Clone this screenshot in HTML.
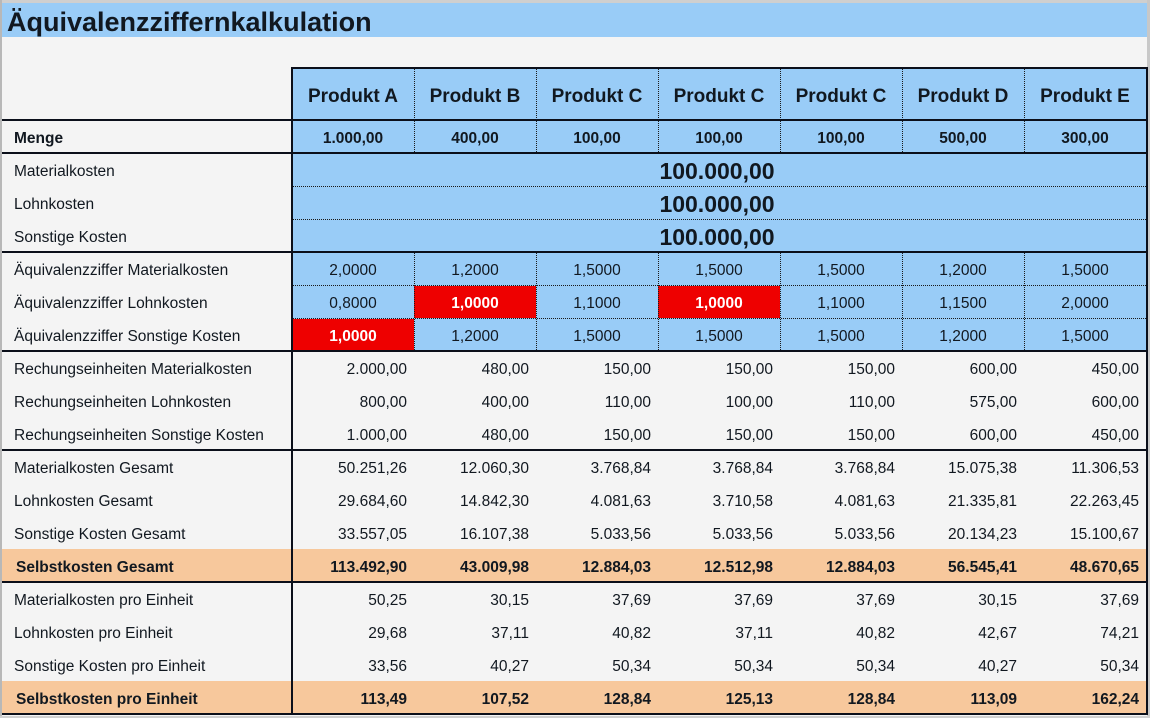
<!DOCTYPE html>
<html><head><meta charset="utf-8">
<style>
*{margin:0;padding:0;box-sizing:border-box}
body{width:1150px;height:718px;overflow:hidden;background:#f4f4f4;font-family:"Liberation Sans",Arial,sans-serif;color:#111820;position:relative}
.abs{position:absolute}
.row{position:absolute;left:0;width:1146px;height:33px;display:flex;align-items:center;font-size:15.5px;z-index:3;padding-top:5px}
.row .l{width:292px;padding-left:14px;white-space:nowrap}
.row .v{width:122px;text-align:right;padding-right:7px;white-space:nowrap}
.row.c .v{text-align:center;padding-right:0}
.b{font-weight:bold}
.w{color:#fff;font-weight:bold}
.hl{position:absolute;height:2px;background:#0b0f1a;z-index:5}
.vl{position:absolute;width:2px;background:#0b0f1a;z-index:5}
.dh{position:absolute;height:0;border-top:1px dotted #1a1a1a;z-index:4}
.dv{position:absolute;width:0;border-left:1px dotted #1a1a1a;z-index:4}
.big{position:absolute;left:290px;width:854px;height:33px;line-height:33px;padding-top:2px;text-align:center;font-size:23px;font-weight:bold;z-index:3}
</style></head><body>
<!-- frame -->
<div class="abs" style="left:0;top:0;width:1150px;height:3px;background:#cfcfcf"></div>
<div class="abs" style="left:0;top:0;width:2px;height:718px;background:#b8b8b8"></div>
<div class="abs" style="left:1147px;top:0;width:3px;height:718px;background:#c8c8c8"></div>
<div class="abs" style="left:0;top:716px;width:1150px;height:2px;background:#d0d0d0"></div>
<!-- title -->
<div class="abs" style="left:2px;top:3px;width:1145px;height:34px;background:#99ccf7;font-size:27px;font-weight:bold;line-height:34px;padding-left:5px;padding-top:2px;white-space:nowrap">Äquivalenzziffernkalkulation</div>
<!-- backgrounds -->
<div class="abs" style="left:292px;top:68px;width:855px;height:283px;background:#99ccf7"></div>
<div class="abs" style="left:414px;top:286px;width:122px;height:32px;background:#ee0000"></div>
<div class="abs" style="left:658px;top:286px;width:122px;height:32px;background:#ee0000"></div>
<div class="abs" style="left:293px;top:319px;width:121px;height:32px;background:#ee0000"></div>
<div class="abs" style="left:2px;top:549px;width:1145px;height:33px;background:#f7c89c"></div>
<div class="abs" style="left:2px;top:681px;width:1145px;height:33px;background:#f7c89c"></div>

<!-- header -->
<div class="row c" style="top:68px;height:52px;font-size:19px;font-weight:bold;padding-top:6px">
<div class="l"></div><div class="v">Produkt A</div><div class="v">Produkt B</div><div class="v">Produkt C</div><div class="v">Produkt C</div><div class="v">Produkt C</div><div class="v">Produkt D</div><div class="v">Produkt E</div></div>

<div class="row c b" style="top:120px"><div class="l">Menge</div><div class="v">1.000,00</div><div class="v">400,00</div><div class="v">100,00</div><div class="v">100,00</div><div class="v">100,00</div><div class="v">500,00</div><div class="v">300,00</div></div>

<div class="row" style="top:153px"><div class="l">Materialkosten</div></div>
<div class="big" style="top:153px">100.000,00</div>
<div class="row" style="top:186px"><div class="l">Lohnkosten</div></div>
<div class="big" style="top:186px">100.000,00</div>
<div class="row" style="top:219px"><div class="l">Sonstige Kosten</div></div>
<div class="big" style="top:219px">100.000,00</div>

<div class="row c" style="top:252px"><div class="l">Äquivalenzziffer Materialkosten</div><div class="v">2,0000</div><div class="v">1,2000</div><div class="v">1,5000</div><div class="v">1,5000</div><div class="v">1,5000</div><div class="v">1,2000</div><div class="v">1,5000</div></div>
<div class="row c" style="top:285px"><div class="l">Äquivalenzziffer Lohnkosten</div><div class="v">0,8000</div><div class="v w">1,0000</div><div class="v">1,1000</div><div class="v w">1,0000</div><div class="v">1,1000</div><div class="v">1,1500</div><div class="v">2,0000</div></div>
<div class="row c" style="top:318px"><div class="l">Äquivalenzziffer Sonstige Kosten</div><div class="v w">1,0000</div><div class="v">1,2000</div><div class="v">1,5000</div><div class="v">1,5000</div><div class="v">1,5000</div><div class="v">1,2000</div><div class="v">1,5000</div></div>

<div class="row" style="top:351px"><div class="l">Rechungseinheiten Materialkosten</div><div class="v">2.000,00</div><div class="v">480,00</div><div class="v">150,00</div><div class="v">150,00</div><div class="v">150,00</div><div class="v">600,00</div><div class="v">450,00</div></div>
<div class="row" style="top:384px"><div class="l">Rechungseinheiten Lohnkosten</div><div class="v">800,00</div><div class="v">400,00</div><div class="v">110,00</div><div class="v">100,00</div><div class="v">110,00</div><div class="v">575,00</div><div class="v">600,00</div></div>
<div class="row" style="top:417px"><div class="l">Rechungseinheiten Sonstige Kosten</div><div class="v">1.000,00</div><div class="v">480,00</div><div class="v">150,00</div><div class="v">150,00</div><div class="v">150,00</div><div class="v">600,00</div><div class="v">450,00</div></div>

<div class="row" style="top:450px"><div class="l">Materialkosten Gesamt</div><div class="v">50.251,26</div><div class="v">12.060,30</div><div class="v">3.768,84</div><div class="v">3.768,84</div><div class="v">3.768,84</div><div class="v">15.075,38</div><div class="v">11.306,53</div></div>
<div class="row" style="top:483px"><div class="l">Lohnkosten Gesamt</div><div class="v">29.684,60</div><div class="v">14.842,30</div><div class="v">4.081,63</div><div class="v">3.710,58</div><div class="v">4.081,63</div><div class="v">21.335,81</div><div class="v">22.263,45</div></div>
<div class="row" style="top:516px"><div class="l">Sonstige Kosten Gesamt</div><div class="v">33.557,05</div><div class="v">16.107,38</div><div class="v">5.033,56</div><div class="v">5.033,56</div><div class="v">5.033,56</div><div class="v">20.134,23</div><div class="v">15.100,67</div></div>
<div class="row b" style="top:549px"><div class="l" style="padding-left:16px">Selbstkosten Gesamt</div><div class="v">113.492,90</div><div class="v">43.009,98</div><div class="v">12.884,03</div><div class="v">12.512,98</div><div class="v">12.884,03</div><div class="v">56.545,41</div><div class="v">48.670,65</div></div>

<div class="row" style="top:582px"><div class="l">Materialkosten pro Einheit</div><div class="v">50,25</div><div class="v">30,15</div><div class="v">37,69</div><div class="v">37,69</div><div class="v">37,69</div><div class="v">30,15</div><div class="v">37,69</div></div>
<div class="row" style="top:615px"><div class="l">Lohnkosten pro Einheit</div><div class="v">29,68</div><div class="v">37,11</div><div class="v">40,82</div><div class="v">37,11</div><div class="v">40,82</div><div class="v">42,67</div><div class="v">74,21</div></div>
<div class="row" style="top:648px"><div class="l">Sonstige Kosten pro Einheit</div><div class="v">33,56</div><div class="v">40,27</div><div class="v">50,34</div><div class="v">50,34</div><div class="v">50,34</div><div class="v">40,27</div><div class="v">50,34</div></div>
<div class="row b" style="top:681px"><div class="l" style="padding-left:16px">Selbstkosten pro Einheit</div><div class="v">113,49</div><div class="v">107,52</div><div class="v">128,84</div><div class="v">125,13</div><div class="v">128,84</div><div class="v">113,09</div><div class="v">162,24</div></div>

<!-- thick lines -->
<div class="hl" style="left:291px;top:67px;width:857px"></div>
<div class="hl" style="left:2px;top:119px;width:1146px"></div>
<div class="hl" style="left:2px;top:152px;width:1146px"></div>
<div class="hl" style="left:2px;top:251px;width:1146px"></div>
<div class="hl" style="left:2px;top:350px;width:1146px"></div>
<div class="hl" style="left:2px;top:449px;width:1146px"></div>
<div class="hl" style="left:2px;top:581px;width:1146px"></div>
<div class="hl" style="left:2px;top:713px;width:1146px"></div>
<div class="vl" style="left:291px;top:67px;height:648px"></div>
<div class="vl" style="left:1146px;top:67px;height:648px"></div>

<!-- dotted vertical -->
<div class="dv" style="left:414px;top:69px;height:83px"></div>
<div class="dv" style="left:536px;top:69px;height:83px"></div>
<div class="dv" style="left:658px;top:69px;height:83px"></div>
<div class="dv" style="left:780px;top:69px;height:83px"></div>
<div class="dv" style="left:902px;top:69px;height:83px"></div>
<div class="dv" style="left:1024px;top:69px;height:83px"></div>
<div class="dv" style="left:414px;top:253px;height:97px"></div>
<div class="dv" style="left:536px;top:253px;height:97px"></div>
<div class="dv" style="left:658px;top:253px;height:97px"></div>
<div class="dv" style="left:780px;top:253px;height:97px"></div>
<div class="dv" style="left:902px;top:253px;height:97px"></div>
<div class="dv" style="left:1024px;top:253px;height:97px"></div>
<!-- dotted horizontal -->
<div class="dh" style="left:293px;top:186px;width:853px"></div>
<div class="dh" style="left:293px;top:219px;width:853px"></div>
<div class="dh" style="left:293px;top:285px;width:853px"></div>
<div class="dh" style="left:293px;top:318px;width:853px"></div>
</body></html>
